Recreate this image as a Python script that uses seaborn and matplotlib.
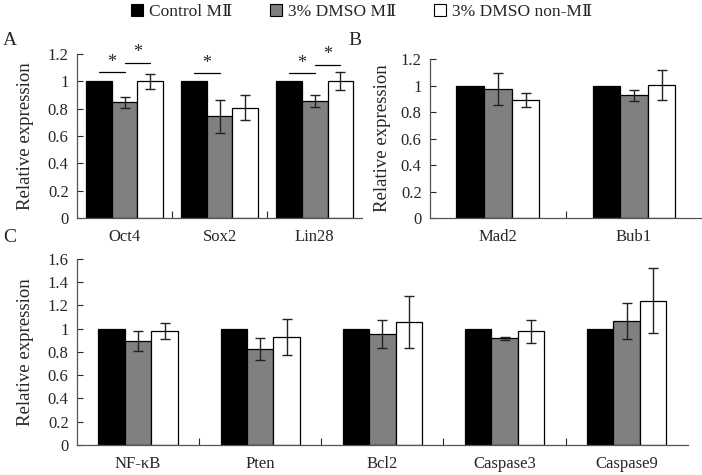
import numpy as np
import pandas as pd
import seaborn as sns
import matplotlib.pyplot as plt
from matplotlib.patches import Patch

# ==========================================
# Dados
# ==========================================
groups = ['Control MⅡ', '3% DMSO MⅡ', '3% DMSO non-MⅡ']
colors = ['#000000', '#808080', '#ffffff']

genes_a = ['Oct4', 'Sox2', 'Lin28']
mean_a = [[1.0, 1.0, 1.0], [0.847, 0.745, 0.856], [1.0, 0.808, 1.005]]
err_a = [[0, 0, 0], [0.038, 0.12, 0.045], [0.055, 0.09, 0.065]]

genes_b = ['Mad2', 'Bub1']
mean_b = [[1.0, 1.0], [0.975, 0.926], [0.89, 1.005]]
err_b = [[0, 0], [0.12, 0.04], [0.05, 0.115]]

genes_c = ['NF-κB', 'Pten', 'Bcl2', 'Caspase3', 'Caspase9']
mean_c = [[1.0, 1.0, 1.0, 1.0, 1.0],
          [0.897, 0.826, 0.952, 0.92, 1.069],
          [0.98, 0.929, 1.058, 0.978, 1.241]]
err_c = [[0, 0, 0, 0, 0],
         [0.086, 0.095, 0.12, 0.013, 0.155],
         [0.07, 0.155, 0.225, 0.1, 0.28]]

# significancia: (gene, grupo1, grupo2, altura)
sig_a = [('Oct4', 0, 1, 1.07), ('Oct4', 1, 2, 1.137),
         ('Sox2', 0, 1, 1.06),
         ('Lin28', 0, 1, 1.06), ('Lin28', 1, 2, 1.124)]

sns.set_style('white')
plt.rcParams['font.family'] = ['Liberation Serif', 'DejaVu Serif']
plt.rcParams['font.size'] = 12


def painel(ax, genes, means, errs, width, ylim, yticks, labelpad):
    rows = []
    for g, grp in enumerate(groups):
        for i, gene in enumerate(genes):
            rows.append({'gene': gene, 'grupo': grp, 'valor': means[g][i]})
    df = pd.DataFrame(rows)
    sns.barplot(data=df, x='gene', y='valor', hue='grupo', hue_order=groups,
                order=genes, palette=colors, edgecolor='black', linewidth=0.9,
                width=width, errorbar=None, legend=False, ax=ax)
    centros = {}
    for g in range(len(groups)):
        for i in range(len(genes)):
            p = ax.patches[g * len(genes) + i]
            cx = p.get_x() + p.get_width() / 2
            centros[(genes[i], g)] = cx
            if errs[g][i] > 0:
                ax.errorbar(cx, means[g][i], yerr=errs[g][i], fmt='none',
                            ecolor='#222222', elinewidth=1, capsize=3.5, capthick=1)
    ax.set_ylim(*ylim)
    ax.set_yticks(yticks)
    ax.set_yticklabels([('%g' % t) for t in yticks])
    ax.set_xlim(-0.5, len(genes) - 0.5)
    ax.set_xticks(np.arange(len(genes) - 1) + 0.5, minor=True)
    ax.tick_params(axis='x', which='major', length=0, pad=8)
    ax.tick_params(axis='x', which='minor', direction='in', length=5, width=0.8, bottom=True)
    ax.tick_params(axis='y', direction='in', length=4, width=0.8, left=True, pad=6)
    ax.set_xlabel('')
    ax.set_ylabel('Relative expression', fontsize=13.5, labelpad=labelpad)
    for s in ['top', 'right']:
        ax.spines[s].set_visible(False)
    for s in ['left', 'bottom']:
        ax.spines[s].set_color('#555555')
        ax.spines[s].set_linewidth(0.9)
    return centros


fig = plt.figure(figsize=(7.02, 4.75), dpi=100)
ax_a = fig.add_axes([0.1097, 0.541, 0.406, 0.345])
ax_b = fig.add_axes([0.6125, 0.541, 0.3875, 0.3347])
ax_c = fig.add_axes([0.1097, 0.0632, 0.870, 0.3916])

cen_a = painel(ax_a, genes_a, mean_a, err_a, 0.82, (0, 1.2), [0, 0.2, 0.4, 0.6, 0.8, 1, 1.2], 10)
painel(ax_b, genes_b, mean_b, err_b, 0.61, (0, 1.2), [0, 0.2, 0.4, 0.6, 0.8, 1, 1.2], 7)
painel(ax_c, genes_c, mean_c, err_c, 0.65, (0, 1.6), [0, 0.2, 0.4, 0.6, 0.8, 1, 1.2, 1.4, 1.6], 10)

for gene, g1, g2, h in sig_a:
    x1, x2 = cen_a[(gene, g1)], cen_a[(gene, g2)]
    ax_a.plot([x1, x2], [h, h], color='black', lw=0.9, clip_on=False)
    ax_a.text((x1 + x2) / 2, h + 0.01, '*', ha='center', va='bottom', fontsize=13)

fig.text(0.004, 0.905, 'A', fontsize=14)
fig.text(0.496, 0.905, 'B', fontsize=14)
fig.text(0.004, 0.49, 'C', fontsize=14)

handles = [Patch(facecolor=c, edgecolor='black', linewidth=0.8) for c in colors]
fig.legend(handles, groups, loc='center', bbox_to_anchor=(0.515, 0.974), ncol=3,
           frameon=False, handlelength=0.7, handleheight=0.7, handletextpad=0.3,
           columnspacing=2.2, fontsize=12.5)

fig.savefig('out.png', dpi=100)
